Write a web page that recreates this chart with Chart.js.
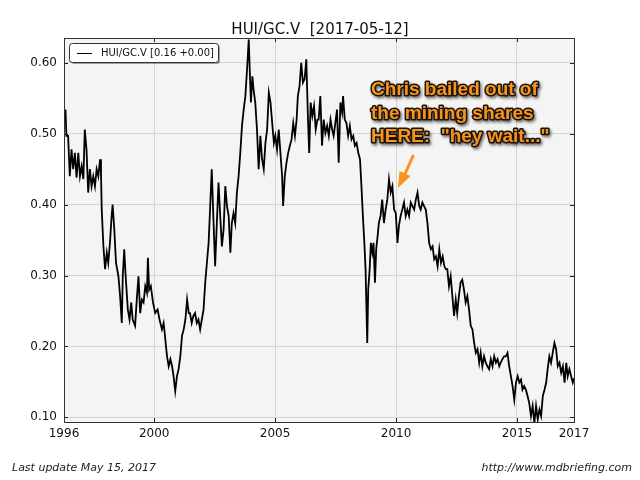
<!DOCTYPE html>
<html>
<head>
<meta charset="utf-8">
<script src="https://cdn.jsdelivr.net/npm/chart.js@4.4.0/dist/chart.umd.min.js"></script>
<style>
  body { margin: 0; background: #fff; }
  canvas { display: block; }
</style>
</head>
<body>
<canvas id="chartHui" width="640" height="480"></canvas>
<script>
// decimal year of each sample
const years = [
  1996.27, 1996.33, 1996.37, 1996.44, 1996.51, 1996.58, 1996.65, 1996.72, 1996.79, 1996.86,
  1996.93, 1997.00, 1997.07, 1997.13, 1997.20, 1997.27, 1997.34, 1997.41, 1997.48, 1997.55,
  1997.62, 1997.69, 1997.76, 1997.80, 1997.83, 1997.90, 1997.97, 1998.04, 1998.10, 1998.17,
  1998.24, 1998.28, 1998.35, 1998.42, 1998.52, 1998.59, 1998.66, 1998.70, 1998.76, 1998.82,
  1998.91, 1998.98, 1999.05, 1999.11, 1999.21, 1999.28, 1999.35, 1999.42, 1999.49, 1999.56,
  1999.63, 1999.70, 1999.74, 1999.79, 1999.86, 1999.95, 2000.04, 2000.14, 2000.22, 2000.32,
  2000.39, 2000.46, 2000.53, 2000.60, 2000.67, 2000.74, 2000.80, 2000.87, 2000.94, 2001.01,
  2001.08, 2001.15, 2001.22, 2001.29, 2001.36, 2001.43,
  2001.48, 2001.55, 2001.62, 2001.69, 2001.76, 2001.83, 2001.90, 2001.97, 2002.04, 2002.11,
  2002.18, 2002.25, 2002.31, 2002.38, 2002.45, 2002.52, 2002.59, 2002.66, 2002.73, 2002.80,
  2002.87, 2002.94, 2003.01, 2003.08, 2003.15, 2003.21, 2003.28, 2003.35, 2003.42, 2003.49,
  2003.56, 2003.63, 2003.70, 2003.77, 2003.84, 2003.91, 2003.95, 2004.00, 2004.06, 2004.11,
  2004.18, 2004.25, 2004.32, 2004.39, 2004.46, 2004.53, 2004.60, 2004.67, 2004.74, 2004.81,
  2004.88, 2004.95, 2005.01, 2005.08, 2005.15, 2005.22, 2005.29, 2005.33, 2005.40, 2005.47,
  2005.54, 2005.61, 2005.68, 2005.75, 2005.82, 2005.89, 2005.94, 2006.01, 2006.08, 2006.15,
  2006.22, 2006.29, 2006.36, 2006.41, 2006.47, 2006.54, 2006.61, 2006.68, 2006.75,
  2006.80, 2006.87, 2006.94, 2007.01, 2007.08, 2007.15, 2007.22, 2007.29, 2007.36, 2007.42,
  2007.49, 2007.56, 2007.63, 2007.70, 2007.77, 2007.81, 2007.88, 2007.95, 2008.02, 2008.09,
  2008.16, 2008.23, 2008.30, 2008.37, 2008.44, 2008.51, 2008.57, 2008.63, 2008.69, 2008.74,
  2008.81, 2008.85, 2008.91, 2008.96, 2009.02, 2009.07, 2009.13, 2009.18, 2009.24, 2009.29,
  2009.36, 2009.43, 2009.50, 2009.57, 2009.64, 2009.71, 2009.78, 2009.85, 2009.92, 2009.99,
  2010.06, 2010.12, 2010.19, 2010.26, 2010.33, 2010.40, 2010.47, 2010.54, 2010.61, 2010.68,
  2010.75, 2010.82, 2010.89, 2010.96, 2011.02, 2011.09, 2011.16, 2011.23, 2011.30, 2011.37,
  2011.44, 2011.51, 2011.58, 2011.65, 2011.72, 2011.79, 2011.86, 2011.93, 2012.00, 2012.06,
  2012.12, 2012.19, 2012.26, 2012.33, 2012.40, 2012.47, 2012.53, 2012.60, 2012.67, 2012.74,
  2012.81, 2012.88, 2012.95, 2013.02, 2013.09, 2013.16, 2013.23, 2013.30, 2013.37, 2013.44,
  2013.50, 2013.57, 2013.64, 2013.71, 2013.78, 2013.85, 2013.92, 2013.99, 2014.06, 2014.13,
  2014.20, 2014.27, 2014.33, 2014.40, 2014.47, 2014.54, 2014.61, 2014.68, 2014.75, 2014.82,
  2014.89, 2014.96, 2015.03, 2015.10, 2015.17, 2015.23, 2015.30, 2015.37, 2015.44, 2015.51,
  2015.58, 2015.65, 2015.72, 2015.79, 2015.86, 2015.93, 2016.00, 2016.07, 2016.14, 2016.21,
  2016.27, 2016.34, 2016.41, 2016.48, 2016.55, 2016.62, 2016.69, 2016.76, 2016.83, 2016.90,
  2016.97, 2017.04, 2017.10, 2017.17, 2017.24, 2017.31, 2017.36
];

// HUI / gold ratio
const hui = [
  0.515, 0.534, 0.497, 0.497, 0.440, 0.478, 0.450, 0.473, 0.438, 0.473,
  0.440, 0.454, 0.436, 0.506, 0.478, 0.417, 0.450, 0.426, 0.440, 0.426,
  0.450, 0.440, 0.464, 0.445, 0.393, 0.341, 0.309, 0.332, 0.318, 0.346,
  0.384, 0.400, 0.365, 0.318, 0.299, 0.271, 0.233, 0.299, 0.337, 0.299,
  0.252, 0.238, 0.262, 0.238, 0.229, 0.266, 0.299, 0.247, 0.266, 0.262,
  0.285, 0.276, 0.325, 0.280, 0.285, 0.262, 0.247, 0.252, 0.238, 0.224,
  0.233, 0.210, 0.186, 0.172, 0.182, 0.172, 0.158, 0.137, 0.158, 0.168,
  0.186, 0.215, 0.224, 0.238, 0.266, 0.247,
  0.247, 0.233, 0.243, 0.247, 0.233, 0.238, 0.224, 0.238, 0.252, 0.290,
  0.318, 0.346, 0.393, 0.450, 0.379, 0.313, 0.374, 0.431, 0.384, 0.341,
  0.365, 0.426, 0.398, 0.384, 0.332, 0.374, 0.388, 0.374, 0.417, 0.440,
  0.473, 0.511, 0.534, 0.553, 0.591, 0.633, 0.591, 0.544, 0.581, 0.562,
  0.544, 0.506, 0.450, 0.497, 0.464, 0.450, 0.487, 0.506, 0.558, 0.544,
  0.515, 0.487, 0.497, 0.478, 0.506, 0.473, 0.440, 0.398, 0.440, 0.459,
  0.473, 0.483, 0.492, 0.515, 0.497, 0.520, 0.553, 0.567, 0.600, 0.572,
  0.577, 0.605, 0.520, 0.473, 0.544, 0.525, 0.539, 0.506, 0.520,
  0.520, 0.553, 0.483, 0.520, 0.501, 0.511, 0.497, 0.520, 0.506, 0.497,
  0.515, 0.534, 0.459, 0.544, 0.530, 0.553, 0.520, 0.515, 0.497, 0.511,
  0.492, 0.497, 0.483, 0.487, 0.473, 0.464, 0.426, 0.384, 0.346, 0.309,
  0.205, 0.280, 0.309, 0.346, 0.332, 0.346, 0.290, 0.337, 0.356, 0.374,
  0.384, 0.407, 0.374, 0.393, 0.407, 0.436, 0.417, 0.426, 0.393, 0.388,
  0.346, 0.370, 0.384, 0.393, 0.403, 0.384, 0.393, 0.384, 0.403, 0.398,
  0.393, 0.407, 0.417, 0.398, 0.393, 0.403, 0.398, 0.393, 0.374, 0.346,
  0.337, 0.341, 0.323, 0.327, 0.313, 0.337, 0.318, 0.327, 0.313, 0.309,
  0.309, 0.285, 0.299, 0.271, 0.243, 0.266, 0.247, 0.271, 0.290, 0.294,
  0.280, 0.262, 0.271, 0.252, 0.229, 0.224, 0.205, 0.191, 0.196, 0.177,
  0.191, 0.172, 0.186, 0.177, 0.172, 0.168, 0.182, 0.172, 0.186, 0.177,
  0.182, 0.172, 0.177, 0.182, 0.186, 0.186, 0.191, 0.172, 0.158, 0.144,
  0.125, 0.149, 0.158, 0.149, 0.153, 0.139, 0.144, 0.139, 0.130, 0.120,
  0.102, 0.116, 0.092, 0.116, 0.097, 0.111, 0.102, 0.130, 0.139, 0.149,
  0.168, 0.186, 0.177, 0.191, 0.205, 0.196, 0.172, 0.177, 0.163, 0.172,
  0.149, 0.177, 0.158, 0.168, 0.158, 0.149, 0.155
];

const xMin = 1996.27;
const xMax = 2017.36;
const yMin = 0.0934;
const yMax = 0.635;
const xTickValues = [1996.27, 2000, 2005, 2010, 2015, 2017.36];
const xTickLabels = ['1996', '2000', '2005', '2010', '2015', '2017'];
const yTickValues = [0.10, 0.20, 0.30, 0.40, 0.50, 0.60];

const titleText = 'HUI/GC.V  [2017-05-12]';
const legendText = 'HUI/GC.V [0.16 +0.00]';
const noteLines = ['Chris bailed out of', 'the mining shares', 'HERE:  "hey wait..."'];
const footerLeft = 'Last update May 15, 2017';
const footerRight = 'http://www.mdbriefing.com';

const FONT = '"DejaVu Sans", sans-serif';

const decor = {
    id: 'decor',
    beforeDraw(chart) {
        const { ctx, chartArea: a } = chart;
        ctx.save();
        ctx.fillStyle = '#f4f4f4';
        ctx.fillRect(a.left, a.top, a.right - a.left, a.bottom - a.top);
        ctx.restore();
    },
    afterDatasetsDraw(chart) {
        const { ctx, chartArea: a, scales } = chart;
        ctx.save();
        // inward tick marks like matplotlib
        ctx.strokeStyle = '#222';
        ctx.lineWidth = 1;
        ctx.beginPath();
        yTickValues.forEach(v => {
            const y = Math.round(scales.y.getPixelForValue(v)) + 0.5;
            ctx.moveTo(a.left, y); ctx.lineTo(a.left + 4, y);
            ctx.moveTo(a.right, y); ctx.lineTo(a.right - 4, y);
        });
        xTickValues.forEach(v => {
            const x = Math.round(scales.x.getPixelForValue(v)) + 0.5;
            ctx.moveTo(x, a.bottom); ctx.lineTo(x, a.bottom - 4);
            ctx.moveTo(x, a.top); ctx.lineTo(x, a.top + 4);
        });
        ctx.stroke();
        // frame
        ctx.strokeStyle = '#333';
        ctx.strokeRect(Math.round(a.left) + 0.5, Math.round(a.top) + 0.5,
            Math.round(a.right - a.left), Math.round(a.bottom - a.top));
        ctx.restore();
    },
    afterDraw(chart) {
        const { ctx } = chart;
        ctx.save();

        // title
        ctx.fillStyle = '#111';
        ctx.font = '15px ' + FONT;
        ctx.textAlign = 'center';
        ctx.textBaseline = 'alphabetic';
        ctx.fillText(titleText, 320, 34);

        // legend box
        ctx.fillStyle = 'rgba(0,0,0,0.35)';
        ctx.beginPath();
        ctx.roundRect(71, 45, 149, 19, 3);
        ctx.fill();
        ctx.fillStyle = '#fff';
        ctx.strokeStyle = '#333';
        ctx.lineWidth = 1;
        ctx.beginPath();
        ctx.roundRect(69.5, 43.5, 149, 19, 3);
        ctx.fill();
        ctx.stroke();
        ctx.beginPath();
        ctx.moveTo(77, 53.5); ctx.lineTo(92, 53.5);
        ctx.strokeStyle = '#000';
        ctx.stroke();
        ctx.fillStyle = '#111';
        ctx.font = '10px ' + FONT;
        ctx.textAlign = 'left';
        ctx.textBaseline = 'middle';
        ctx.fillText(legendText, 101, 53.5);

        // orange note with outline and shadow
        ctx.font = 'bold 19px "Liberation Sans", Arial, sans-serif';
        ctx.textBaseline = 'alphabetic';
        ctx.lineJoin = 'round';
        noteLines.forEach((line, i) => {
            const y = 95 + i * 23.5;
            ctx.shadowColor = 'rgba(0,0,0,0.55)';
            ctx.shadowBlur = 3;
            ctx.shadowOffsetX = 1.5;
            ctx.shadowOffsetY = 2;
            ctx.strokeStyle = '#1b1208';
            ctx.lineWidth = 3;
            ctx.strokeText(line, 371, y);
            ctx.shadowColor = 'transparent';
            ctx.fillStyle = '#f7941d';
            ctx.fillText(line, 371, y);
        });

        // arrow
        ctx.shadowColor = 'transparent';
        ctx.strokeStyle = '#f7941d';
        ctx.fillStyle = '#f7941d';
        ctx.lineWidth = 3;
        ctx.lineCap = 'round';
        ctx.beginPath();
        ctx.moveTo(413, 156);
        ctx.lineTo(405, 174);
        ctx.stroke();
        ctx.beginPath();
        ctx.moveTo(398, 188);
        ctx.lineTo(399.5, 171);
        ctx.lineTo(410.5, 176);
        ctx.closePath();
        ctx.fill();

        // footer
        ctx.fillStyle = '#222';
        ctx.font = 'italic 11px ' + FONT;
        ctx.textBaseline = 'middle';
        ctx.textAlign = 'left';
        ctx.fillText(footerLeft, 12, 468);
        ctx.textAlign = 'right';
        ctx.fillText(footerRight, 632, 468);

        ctx.restore();
    }
};

const ctxHui = document.getElementById('chartHui').getContext('2d');
const chartHui = new Chart(ctxHui, {
    type: 'line',
    data: {
        datasets: [{
            label: legendText,
            data: years.map((yr, i) => ({ x: yr, y: hui[i] })),
            borderColor: '#000',
            borderWidth: 1.8,
            pointRadius: 0,
            tension: 0,
            fill: false
        }]
    },
    options: {
        responsive: false,
        animation: false,
        layout: { padding: { left: 0, right: 66, top: 38, bottom: 36 } },
        plugins: {
            legend: { display: false },
            title: { display: false },
            tooltip: { enabled: false }
        },
        scales: {
            x: {
                type: 'linear',
                min: xMin,
                max: xMax,
                afterBuildTicks: scale => { scale.ticks = xTickValues.map(v => ({ value: v })); },
                afterFit: scale => { scale.height = 22; },
                ticks: {
                    autoSkip: false,
                    maxRotation: 0,
                    padding: 5,
                    color: '#111',
                    font: { family: FONT, size: 12 },
                    callback: (v, i) => xTickLabels[i]
                },
                grid: { color: '#d4d4d4', drawTicks: false },
                border: { display: false }
            },
            y: {
                min: yMin,
                max: yMax,
                afterBuildTicks: scale => { scale.ticks = yTickValues.map(v => ({ value: v })); },
                afterFit: scale => { scale.width = 64; },
                ticks: {
                    padding: 7,
                    color: '#111',
                    font: { family: FONT, size: 12 },
                    callback: v => Number(v).toFixed(2)
                },
                grid: { color: '#d4d4d4', drawTicks: false },
                border: { display: false }
            }
        }
    },
    plugins: [decor]
});
</script>
</body>
</html>
